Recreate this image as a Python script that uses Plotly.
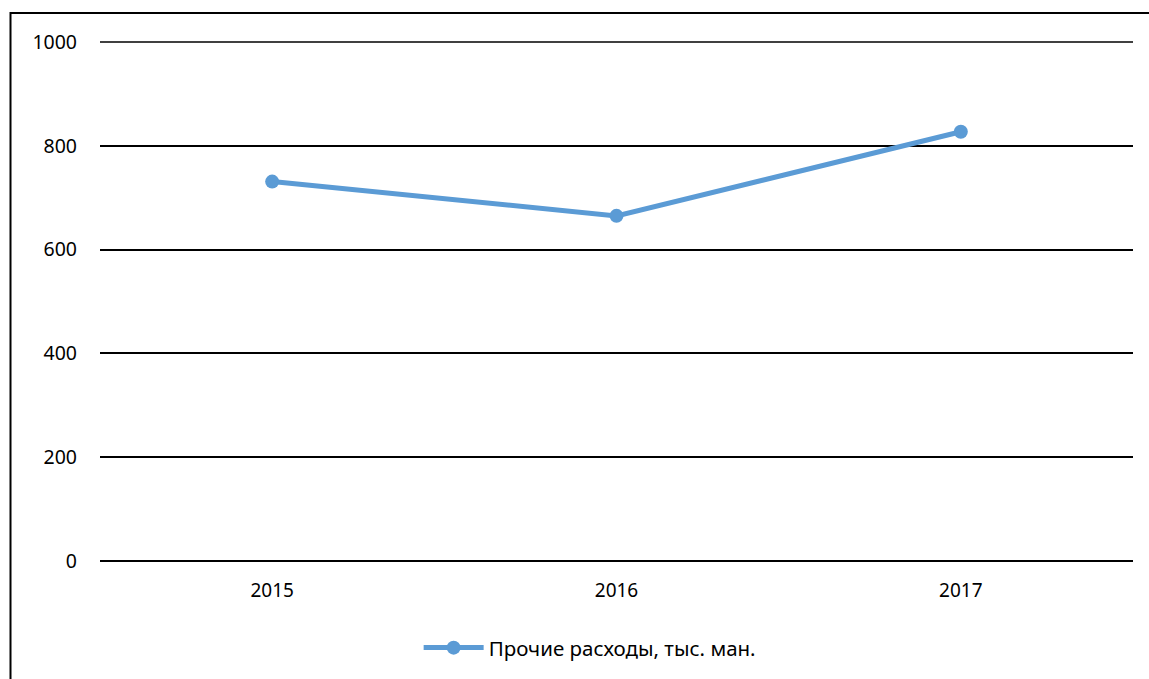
import plotly.graph_objects as go

years = ["2015", "2016", "2017"]
values = [731, 665, 827]
series_name = "Прочие расходы, тыс. ман."
y_ticks = [0, 200, 400, 600, 800, 1000]

W, H = 1149, 679
L, R, T, B = 100, 16, 42, 117
pw, ph = W - L - R, H - T - B

fig = go.Figure()
fig.add_trace(go.Scatter(
    x=years, y=values, mode="lines+markers", name=series_name,
    line=dict(color="#5B9BD5", width=5),
    marker=dict(color="#5B9BD5", size=14),
))

def px_x(x):
    return (x - L) / pw

def px_y(y):
    return (H - B - y) / ph

fig.add_shape(type="rect", xref="paper", yref="paper",
              x0=px_x(10.5), x1=px_x(1152), y0=px_y(690), y1=px_y(13),
              line=dict(color="black", width=2), fillcolor="rgba(0,0,0,0)", layer="below")

# top gridline (paper-referenced so it is not clipped at the range edge)
fig.add_shape(type="line", xref="paper", yref="paper", x0=0, x1=1, y0=1, y1=1,
              line=dict(color="black", width=1.5), layer="below")

font = "Noto Sans, Open Sans, sans-serif"
fig.update_layout(
    width=W, height=H,
    margin=dict(l=L, r=R, t=T, b=B),
    paper_bgcolor="white", plot_bgcolor="white",
    font=dict(family=font, size=19, color="black"),
    showlegend=True,
    legend=dict(orientation="h", x=0.474, xanchor="center", y=-0.165, yanchor="middle",
                font=dict(size=20.5), itemwidth=60),
    xaxis=dict(type="category", range=[-0.5, 2.5], showgrid=False, showline=False,
               ticks="", ticklabelstandoff=16, tickfont=dict(size=19)),
    yaxis=dict(range=[0, 1000], tickvals=y_ticks, showgrid=True, gridcolor="black",
               gridwidth=1.5, zeroline=True, zerolinecolor="black", zerolinewidth=1.5,
               showline=False, ticks="", ticklabelstandoff=22, tickfont=dict(size=19.5)),
)

fig.write_html("out.html")
